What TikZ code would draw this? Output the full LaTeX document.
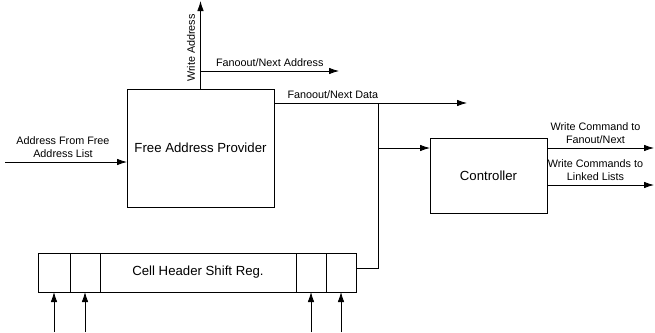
\documentclass[tikz,border=0pt]{standalone}
\usepackage{fontspec}
\setmainfont{Liberation Sans}
\usetikzlibrary{arrows.meta,positioning}
\tikzset{
  blk/.style={draw,rectangle,minimum width=147pt,minimum height=118pt,align=center,outer sep=0pt,font=\fontsize{13.2}{15.8}\selectfont},
  cell/.style={draw,rectangle,minimum width=30pt,minimum height=39pt,inner sep=0pt,outer sep=0pt},
  lbl/.style={font=\fontsize{10.8}{13.4}\selectfont,align=center,inner sep=3.5pt},
  arr/.style={-{Latex[length=10pt,width=6.5pt]}}
}

\begin{document}
\begin{tikzpicture}[x=1pt,y=-1pt,line width=0.8pt]
\useasboundingbox (0,0) rectangle (655,332);
% main blocks
\node[blk] (fap) at (200.5,148) {Free Address Provider};
\node[blk,minimum width=117pt,minimum height=75pt] (ctrl) at (488.5,175.5) {Controller};
% shift register cells
\node[cell,minimum width=32pt] (c1) at (54,272.5) {};
\node[cell,right=0pt of c1] (c2) {};
\node[cell,right=0pt of c2,minimum width=196pt,font=\fontsize{13.2}{15.8}\selectfont] (reg) {Cell Header Shift Reg.};
\node[cell,right=0pt of reg] (c3) {};
\node[cell,right=0pt of c3] (c4) {};
% free ends and bends
\coordinate (in) at (5,162);
\coordinate (wa) at (200.5,1);
\coordinate (fna) at (200.5,71);
\coordinate (fnaend) at (339,71);
\coordinate (tap) at (378,103);
\coordinate (fndend) at (467,103);
\coordinate (regout) at ([yshift=4.5pt]c4.east);
\coordinate (ctrlin) at ([yshift=27.5pt]ctrl.west);
\coordinate (cmd1) at (654,148);
\coordinate (cmd2) at (654,185);
% free address provider
\draw[arr] (in) -- node[lbl,above,xshift=-3pt] {Address From Free\\Address List} (in -| fap.west);
\draw[arr] (fap.north) -- (wa);
\node[lbl,rotate=90] (walbl) at (191,48) {Write Address};
\draw[arr] (fna) -- node[lbl,above] {Fanoout/Next Address} (fnaend);
\draw[arr] (fap.east |- tap) -- node[lbl,pos=0.05,anchor=south west] {Fanoout/Next Data} (fndend);
% shift register to controller
\draw (regout) -| (tap);
\draw[arr] (tap |- ctrlin) -- (ctrlin);
\draw[arr] (ctrl.east |- cmd1) -- node[lbl,above,xshift=-5pt] {Write Command to\\Fanout/Next} (cmd1);
\draw[arr] (ctrl.east |- cmd2) -- node[lbl,above,xshift=-5pt] {Write Commands to\\Linked Lists} (cmd2);
% inputs to the register
\foreach \c in {c1,c2,c3,c4}
  \draw[arr] ([yshift=-40pt]\c.south) -- (\c.south);
\end{tikzpicture}
\end{document}
